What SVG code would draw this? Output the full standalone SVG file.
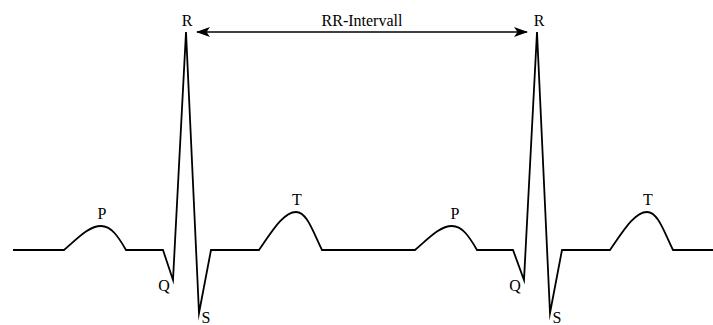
<svg xmlns="http://www.w3.org/2000/svg" width="713" height="325" viewBox="0 0 713 325">
<style>
.trace{fill:none;stroke:#000;stroke-width:1.8;stroke-linejoin:miter;stroke-miterlimit:20}
text{font-family:'Liberation Serif','Times New Roman',serif;font-size:16px;fill:#000;text-anchor:middle}
.arrow{fill:none;stroke:#000;stroke-width:1.6}
</style>
<defs>
<marker id="head" viewBox="0 0 14 10" refX="13" refY="5" markerWidth="14" markerHeight="10" markerUnits="userSpaceOnUse" orient="auto-start-reverse">
<path d="M0,0 L14,5 L0,10 L3.5,5 Z" fill="#000"/>
</marker>
</defs>
<rect width="713" height="325" fill="#fff"/>
<g id="ecg">
<path class="trace" d="M13,250 L64,250 C78,238 89,226 101,226 C111,226 118,236 126,250 L163,250 L173,280 L186,32 L199,313 L211,250 L259,250 C271,233 283,212 296,212 C307,212 313,232 322,250 L415,250 C429,238 440,226 452,226 C462,226 469,236 477,250 L513,250 L524,280 L537,32 L550,313 L562,250 L610,250 C622,233 634,212 647,212 C658,212 664,232 673,250 L713,250"/>
</g>
<g id="labels" font-family="Liberation Serif, serif">
<g id="R1"><text x="187" y="26">R</text></g>
<g id="R2"><text x="539" y="26">R</text></g>
<g id="P1"><text x="102" y="219">P</text></g>
<g id="T1"><text x="297" y="205">T</text></g>
<g id="Q1"><text x="164" y="291">Q</text></g>
<g id="S1"><text x="206" y="323">S</text></g>
<g id="P2"><text x="455" y="219">P</text></g>
<g id="T2"><text x="648" y="205">T</text></g>
<g id="Q2"><text x="515" y="291">Q</text></g>
<g id="S2"><text x="557" y="323">S</text></g>
</g>
<g id="connectors">
<line class="arrow" x1="197" y1="32" x2="527" y2="32" marker-start="url(#head)" marker-end="url(#head)"/>
<text x="362" y="26" font-family="Liberation Serif, serif">RR-Intervall</text>
</g>
</svg>
